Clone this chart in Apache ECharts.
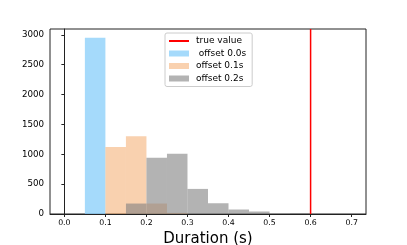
<!DOCTYPE html>
<html>
<head>
<meta charset="utf-8">
<script src="https://cdn.jsdelivr.net/npm/echarts@6/dist/echarts.min.js"></script>
<style>html,body{margin:0;padding:0;background:#fff}#c{width:407px;height:245px}</style>
</head>
<body>
<div id="c"></div>
<script>
// Bin left edges (width 0.05 s)
const binStarts = [0.00,0.05,0.10,0.15,0.20,0.25,0.30,0.35,0.40,0.45,0.50,0.55,0.60,0.65];
const binWidth = 0.05;
const counts00 = [0,2950,0,0,0,0,0,0,0,0,0,0,0,0];
const counts01 = [0,0,1120,1300,175,18,0,0,0,0,0,0,0,0];
const counts02 = [0,0,0,175,940,1010,420,180,75,42,0,15,0,0];
const trueValue = 0.6;
const seriesNames = [' offset 0.0s','offset 0.1s','offset 0.2s'];
const xTicks = [0.0,0.1,0.2,0.3,0.4,0.5,0.6,0.7];
const yTicks = [0,500,1000,1500,2000,2500,3000];

const xMin = -0.035, xMax = 0.735, yMax = 3097;
const colors = ['rgba(135,206,250,0.75)','rgba(244,164,96,0.5)','rgba(128,128,128,0.6)'];

function histData(counts){
  return binStarts.map((s,i)=>[s, s+binWidth, counts[i]]).filter(d=>d[2]>0);
}
function makeHist(name, counts, color){
  return {
    type:'custom', name:name, coordinateSystem:'cartesian2d',
    itemStyle:{color:color},
    encode:{x:[0,1], y:2},
    data:histData(counts),
    renderItem:function(params, api){
      const p0 = api.coord([api.value(0), api.value(2)]);
      const p1 = api.coord([api.value(1), 0]);
      return {type:'rect', shape:{x:p0[0], y:p0[1], width:p1[0]-p0[0], height:p1[1]-p0[1]},
              style:{fill:color}};
    },
    silent:true, animation:false
  };
}

const chart = echarts.init(document.getElementById('c'), null, {renderer:'canvas'});
chart.setOption({
  animation:false,
  textStyle:{fontFamily:'DejaVu Sans'},
  grid:{left:50, right:41, top:29, bottom:31, containLabel:false, outerBoundsMode:'none',
        show:true, borderColor:'#222', borderWidth:1, backgroundColor:'transparent'},
  legend:{
    orient:'vertical', left:165, top:33,
    padding:[3,6,3,3], itemGap:2.5, itemWidth:20, itemHeight:6,
    backgroundColor:'#fff', borderColor:'#ccc', borderWidth:1, borderRadius:2,
    textStyle:{fontSize:9, color:'#000', fontFamily:'DejaVu Sans', lineHeight:10, padding:[0,0,0,2]},
    data:[{name:'true value', itemStyle:{opacity:0}},
          {name:seriesNames[0], icon:'rect'},
          {name:seriesNames[1], icon:'rect'},
          {name:seriesNames[2], icon:'rect'}]
  },
  xAxis:{
    type:'value', min:xMin, max:xMax,
    name:'Duration (s)', nameLocation:'middle', nameGap:14,
    nameTextStyle:{fontSize:15, color:'#000', fontFamily:'DejaVu Sans'},
    splitLine:{show:false},
    axisLine:{show:true, onZero:false, lineStyle:{color:'#222', width:1}},
    axisTick:{show:true, inside:false, length:3, lineStyle:{color:'#222'}, customValues:xTicks},
    axisLabel:{fontSize:7.8, color:'#000', margin:5, customValues:xTicks,
      formatter:v=>Number(v).toFixed(1)}
  },
  yAxis:{
    type:'value', min:0, max:yMax,
    splitLine:{show:false},
    axisLine:{show:true, lineStyle:{color:'#222', width:1}},
    axisTick:{show:true, inside:false, length:3, lineStyle:{color:'#222'}, customValues:yTicks},
    axisLabel:{fontSize:8.7, color:'#000', margin:6, customValues:yTicks,
      formatter:v=>String(Math.round(v))}
  },
  series:[
    makeHist(seriesNames[0], counts00, colors[0]),
    makeHist(seriesNames[1], counts01, colors[1]),
    makeHist(seriesNames[2], counts02, colors[2]),
    {type:'line', name:'true value', data:[[trueValue,0],[trueValue,yMax]],
     symbol:'none', lineStyle:{color:'#ff0000', width:1.5}, itemStyle:{color:'rgba(0,0,0,0)', opacity:0},
     silent:true, animation:false, z:5}
  ]
});
</script>
</body>
</html>
